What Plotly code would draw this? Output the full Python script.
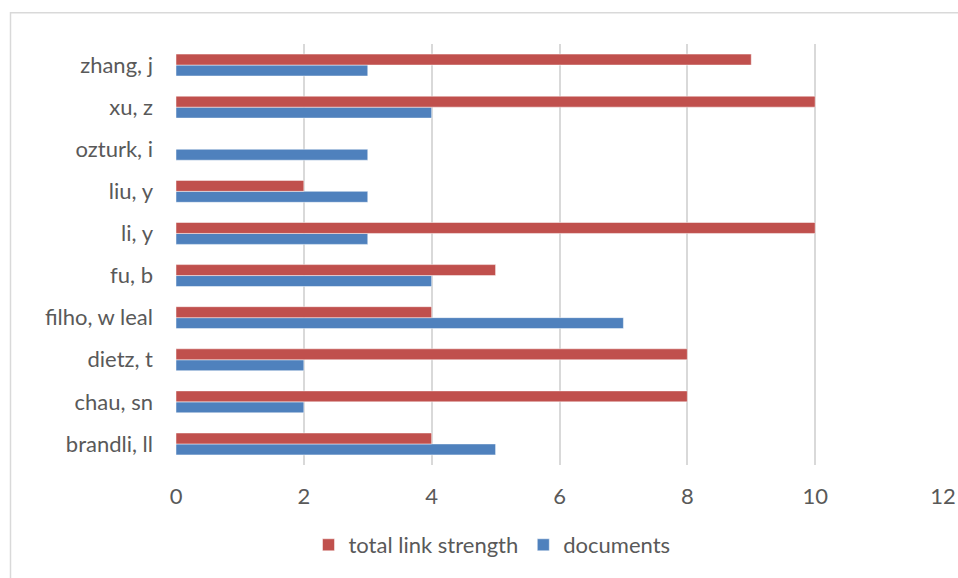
import plotly.graph_objects as go

authors = ["brandli, ll", "chau, sn", "dietz, t", "filho, w leal", "fu, b",
           "li, y", "liu, y", "ozturk, i", "xu, z", "zhang, j"]
documents = [5, 2, 2, 7, 4, 3, 3, 3, 4, 3]
total_link_strength = [4, 8, 8, 4, 5, 10, 2, 0, 10, 9]
x_ticks = [0, 2, 4, 6, 8, 10, 12]

FONT = "Lato, 'Open Sans', sans-serif"
TXT = "#595959"
FS = 22

fig = go.Figure()
fig.add_trace(go.Bar(
    y=authors, x=documents, orientation="h", name="documents",
    marker=dict(color="#4F81BD", line=dict(color="rgba(255,255,255,0.6)", width=0.8)),
))
fig.add_trace(go.Bar(
    y=authors, x=total_link_strength, orientation="h", name="total link strength",
    marker=dict(color="#C0504D", line=dict(color="rgba(255,255,255,0.6)", width=0.8)),
))

fig.update_layout(
    width=958, height=578,
    margin=dict(l=176, r=15, t=44, b=108),
    paper_bgcolor="white", plot_bgcolor="white",
    barmode="group", bargap=0.48, bargroupgap=0,
    font=dict(family=FONT, size=FS, color=TXT),
    showlegend=True,
    legend=dict(orientation="h", traceorder="reversed", x=0.412, xanchor="center",
                y=-0.19, yanchor="middle", font=dict(size=FS, color=TXT),
                itemwidth=30),
    xaxis=dict(range=[0, 12], tickvals=x_ticks, showgrid=True, gridcolor="#D9D9D9",
               gridwidth=1.5, zeroline=False, showline=False, ticks="",
               automargin=False,
               ticklabelstandoff=16, tickfont=dict(size=FS, color=TXT)),
    yaxis=dict(categoryorder="array", categoryarray=authors, showgrid=False,
               zeroline=False, showline=False, ticks="", ticklabelstandoff=22,
               automargin=False,
               tickfont=dict(size=FS, color=TXT)),
    shapes=[dict(type="rect", xref="paper", yref="paper",
                 x0=(10.5 - 176) / (958 - 176 - 15), x1=(970 - 176) / (958 - 176 - 15),
                 y0=-0.5, y1=(470 - 12.5) / (578 - 44 - 108),
                 line=dict(color="#D9D9D9", width=1.5), layer="below")],
)

fig.write_html("out.html")
